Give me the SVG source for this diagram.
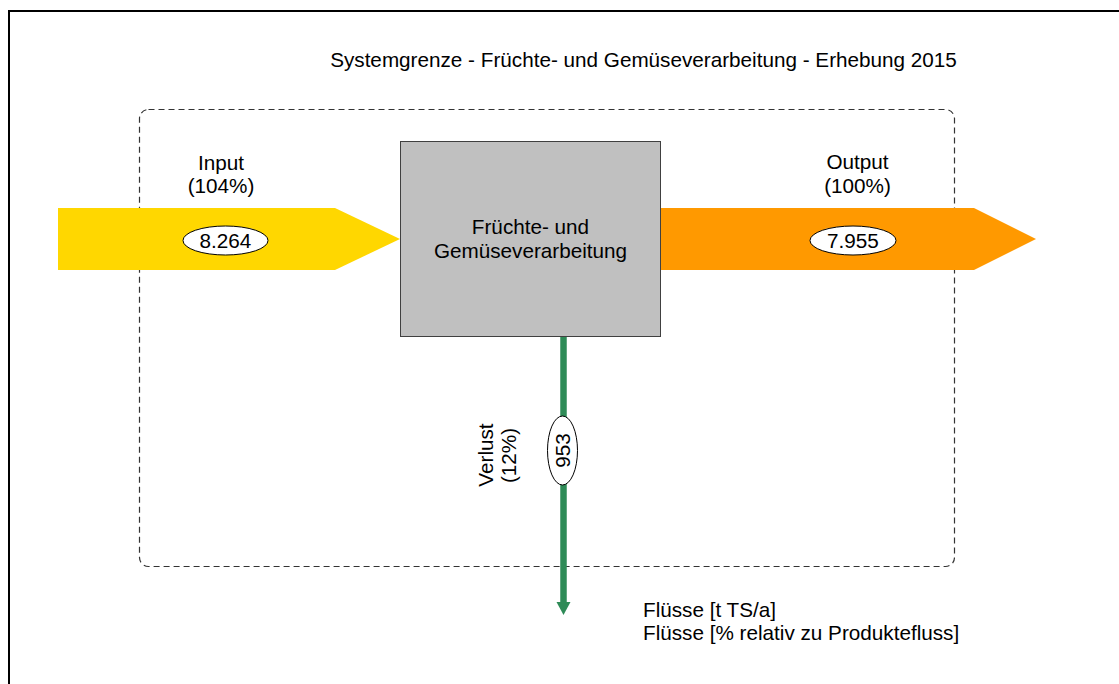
<svg xmlns="http://www.w3.org/2000/svg" width="1119" height="684" viewBox="0 0 1119 684">
<style>
text{font-family:"Liberation Sans",Arial,sans-serif;font-size:20.7px;fill:#000}
.c{text-anchor:middle}
.lbl{fill:#fff;stroke:#000;stroke-width:1}
</style>
<rect x="0" y="0" width="1119" height="684" fill="#fff"/>
<rect x="9" y="11" width="1200" height="800" fill="none" stroke="#000" stroke-width="2"/>
<g id="systemgrenze">
<rect x="139.5" y="109.5" width="815" height="457" rx="9" fill="none" stroke="#333" stroke-width="1.2" stroke-dasharray="6,4"/>
<text x="643.5" y="67" class="c">Systemgrenze - Früchte- und Gemüseverarbeitung - Erhebung 2015</text>
</g>
<g id="connectors">
<g id="input">
<polygon points="58,208 335,208 400,239 335,270 58,270" fill="#FFD700"/>
<ellipse cx="225.5" cy="240.5" rx="42.5" ry="14.5" class="lbl"/>
<text x="225.5" y="247.5" class="c">8.264</text>
<text x="221" y="170" class="c">Input</text>
<text x="221" y="193" class="c">(104%)</text>
</g>
<g id="output">
<polygon points="661,208 974,208 1036,239 974,270 661,270" fill="#FF9900"/>
<ellipse cx="853" cy="240.5" rx="43" ry="14.5" class="lbl"/>
<text x="853" y="247.5" class="c">7.955</text>
<text x="857.5" y="169" class="c">Output</text>
<text x="857.5" y="193" class="c">(100%)</text>
</g>
<g id="verlust">
<line x1="563.5" y1="337" x2="563.5" y2="603" stroke="#2E8B57" stroke-width="6.5"/>
<polygon points="556.5,602 570.5,602 563.5,615" fill="#2E8B57"/>
<ellipse cx="562.5" cy="450.5" rx="15" ry="34.5" class="lbl"/>
<text transform="translate(570,450.5) rotate(-90)" class="c">953</text>
<text transform="translate(493,455) rotate(-90)" class="c">Verlust</text>
<text transform="translate(516,455.5) rotate(-90)" class="c">(12%)</text>
</g>
</g>
<g id="prozess">
<rect x="400.5" y="141.5" width="260" height="195" fill="#C0C0C0" stroke="#404040" stroke-width="1"/>
<text x="530.5" y="234" class="c">Früchte- und</text>
<text x="530.5" y="258" class="c">Gemüseverarbeitung</text>
</g>
<g id="legende">
<text x="643" y="617">Flüsse [t TS/a]</text>
<text x="643" y="640">Flüsse [% relativ zu Produktefluss]</text>
</g>
</svg>
